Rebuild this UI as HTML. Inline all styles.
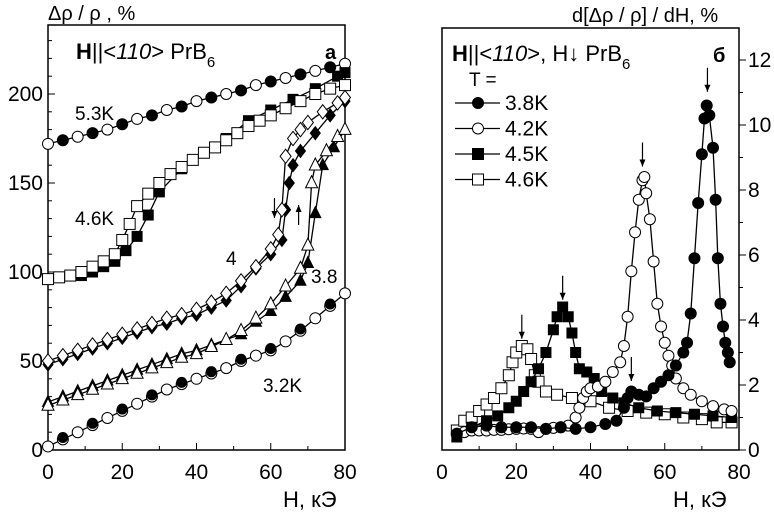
<!DOCTYPE html>
<html><head><meta charset="utf-8"><style>
html,body{margin:0;padding:0;background:#fff}
svg{display:block;font-family:"Liberation Sans",sans-serif}
</style></head><body>
<svg id="c" width="774" height="512" viewBox="0 0 774 512">
<text x="48" y="20" font-size="20">Δρ / ρ ,  %</text>
<text x="283" y="507" font-size="22">H, кЭ</text>
<text x="572" y="22" font-size="20">d[Δρ / ρ] / dH,  %</text>
<text x="673" y="507" font-size="22">H, кЭ</text>
<text x="76" y="59" font-size="22"><tspan font-weight="bold">H</tspan>||&lt;<tspan font-style="italic">110</tspan>&gt;   PrB<tspan font-size="15" dy="8">6</tspan></text>
<text x="325" y="59" font-size="20" font-weight="bold">a</text>
<text x="452" y="61" font-size="22"><tspan font-weight="bold">H</tspan>||&lt;<tspan font-style="italic">110</tspan>&gt;, H↓   PrB<tspan font-size="15" dy="8">6</tspan></text>
<text x="713" y="62" font-size="20" font-weight="bold">б</text>
<text x="75" y="120" font-size="19">5.3K</text>
<text x="75" y="225" font-size="19">4.6K</text>
<text x="226" y="265" font-size="19">4</text>
<text x="311" y="283" font-size="19">3.8</text>
<text x="263" y="392" font-size="19">3.2K</text>
<text x="469" y="86" font-size="19">T =</text>
<g id="plots"></g>
</svg>
<script>
// ---- left panel data (H kOe, Δρ/ρ %) ----
const L53H=[0,4,8,12,16,20,24,28,32,36,40,44,48,52,56,60,64,68,72,76,80];
const L53V=[172,174,176,178,180,183,186,188,191,193,196,198,200,202,205,207,209,211,213,215,217];
const L46oH=[0,3,6,9,12,15,18,20,22,24,27,30,33,36,39,42,45,48,51,54,57,60,64,68,72,76,80];
const L46oV=[96,97,98,100,103,106,110,118,127,137,144,150,155,159,163,167,170,174,178,182,185,188,192,196,200,203,205];
const L46fH=[9,12,15,18,21,24,27,30,36,42,48,54,60,66,72,78,80];
const L46fV=[98,100,103,106,112,120,132,145,158,167,175,185,191,197,203,210,212];
const L4oH=[0,4,8,12,16,20,24,28,32,36,40,44,48,52,56,60,62,63,64,66,68,70,74,78,80];
const L4oV=[50,53,56,59,62,65,68,71,74,76,79,83,88,95,103,113,121,135,165,175,180,184,190,195,198];
const L4fH=[0,4,8,12,16,20,24,28,32,36,40,44,48,52,56,60,63,64,65,66,68,72,76,80];
const L4fV=[48,51,54,57,60,63,66,69,71,74,76,80,84,92,102,110,118,135,150,160,168,178,188,196];
const L38oH=[0,4,8,12,16,20,24,28,32,36,40,44,48,52,56,60,64,68,70,71,72,75,78,80];
const L38oV=[25,28,31,34,37,40,43,46,49,52,54,58,62,67,74,82,92,102,115,150,160,168,176,180];
const L38fH=[0,4,8,12,16,20,24,28,32,36,40,44,48,52,56,60,64,68,70,72,74,77,80];
const L38fV=[27,30,33,36,39,42,45,48,51,54,56,59,62,65,72,78,86,95,105,133,160,170,180];
const L32H=[0,4,8,12,16,20,24,28,32,36,40,44,48,52,56,60,64,68,72,76,80];
const L32V=[2,6,10,14,18,22,26,30,34,37,40,43,46,50,53,56,61,67,74,81,88];
// ---- right panel data (H kOe, dρ/dH %) ----
const R38H=[4,8,12,16,20,24,28,32,36,40,44,47,49,50,51,53,55,57,59,61,63,65,66,67,68,69,70,70.7,71.3,72,73,73.7,74.3,75,75.7,76.3,77,77.5];
const R38V=[0.5,0.7,0.75,0.7,0.7,0.7,0.65,0.7,0.65,0.7,0.8,0.9,1.3,1.6,1.8,1.7,1.65,1.9,2.1,2.3,2.6,3.0,3.3,4.2,5.9,7.6,9.1,10.2,10.6,10.3,9.3,7.7,5.9,4.5,3.8,3.3,3.0,2.7];
const R42H=[4,6,8,10,12,14,16,18,20,22,24,26,28,30,32,34,36,37,38,39,40,42,44,46,48,49,50,51,52,53,54,54.5,55,56,57,58,59,60,61,62,63,65,67,70,73,76,78];
const R42V=[0.5,0.55,0.6,0.6,0.6,0.62,0.62,0.64,0.65,0.66,0.65,0.55,0.65,0.68,0.7,0.75,1.0,1.3,1.6,1.8,1.9,1.95,2.1,2.4,2.7,3.2,4.1,5.5,6.7,7.7,8.3,8.4,7.9,7.1,5.8,4.5,3.8,3.3,2.9,2.6,2.2,1.9,1.7,1.5,1.35,1.25,1.2];
const R45H=[4,8,12,15,18,20,22,24,26,28,30,31,32.5,34,35,36,37,39,41,43,46,49,53,58,63,68,73,78];
const R45V=[0.4,0.7,0.9,1.05,1.3,1.5,1.8,2.1,2.5,3.0,3.7,4.1,4.4,4.1,3.6,3.0,2.5,2.4,2.2,1.8,1.6,1.45,1.3,1.2,1.15,1.1,1.05,1.0];
const R46H=[4,6,8,10,12,14,16,18,19,20,21.5,23,24,25,26,28,31,35,40,45,50,55,60,65,70,74,78];
const R46V=[0.6,0.9,1.0,1.2,1.4,1.6,1.9,2.3,2.7,3.0,3.2,3.1,2.8,2.3,2.1,1.8,1.7,1.6,1.5,1.3,1.2,1.15,1.1,1.0,0.95,0.85,0.85];
const leftYTicks=[0,50,100,150,200];
const xTicks=[0,20,40,60,80];
const rightYTicks=[0,2,4,6,8,10,12];
const legendLabels=["3.8K","4.2K","4.5K","4.6K"];

const NS="http://www.w3.org/2000/svg";
const G=document.getElementById('plots');
function mk(t,a,p){const e=document.createElementNS(NS,t);for(const k in a)e.setAttribute(k,a[k]);(p||G).appendChild(e);return e;}
const lx=h=>48+h*(345-48)/80, ly=v=>450-v*(450-94)/200;
const rx=h=>442+h*(739-442)/80, ry=v=>450-v*(450-60)/12;

function marker(shape,fill,x,y,s,p){
  const f=fill?'#000':'#fff';let e;
  if(shape==='c')e=mk('circle',{cx:x,cy:y,r:s,fill:f,stroke:'#000','stroke-width':1},p);
  else if(shape==='s')e=mk('rect',{x:x-s,y:y-s,width:2*s,height:2*s,fill:f,stroke:'#000','stroke-width':1},p);
  else if(shape==='d')e=mk('polygon',{points:`${x},${y-s*1.3} ${x+s},${y} ${x},${y+s*1.3} ${x-s},${y}`,fill:f,stroke:'#000','stroke-width':1},p);
  else e=mk('polygon',{points:`${x},${y-s*1.2} ${x+s},${y+s*0.8} ${x-s},${y+s*0.8}`,fill:f,stroke:'#000','stroke-width':1},p);
  return e;
}
function series(name,H,V,fx,fy,shape,fill,s,line){
  const g=mk('g',{});
  
  
  if(line){const pl=mk('polyline',{points:H.map((h,i)=>fx(h)+','+fy(V[i])).join(' '),fill:'none',stroke:'#000','stroke-width':1.3},g);
    
    }
  H.forEach((h,i)=>{const m=marker(shape,fill,fx(h),fy(V[i]),s,g);
    
    });
}
function axes(x0,x1,y0,y1,fx,fy,yt,ymin,right,name){
  const g=mk('g',{});
  
  
  mk('rect',{x:x0,y:y1,width:x1-x0,height:y0-y1,fill:'none',stroke:'#000','stroke-width':1.5},g);
  for(let h=0;h<=80;h+=10){const X=fx(h),L=h%20===0?7:4;mk('line',{x1:X,y1:y0,x2:X,y2:y0-L,stroke:'#000'},g);}
  xTicks.forEach(t=>{const e=mk('text',{x:fx(t),y:y0+29,'font-size':21,'text-anchor':'middle'},g);e.textContent=t;
    });
  const step=yt[1]-yt[0];
  for(let v=0;fy(v)>y1;v+=ymin){const Y=fy(v),maj=Math.abs(v/step-Math.round(v/step))<1e-6,L=maj?7:4;
    if(right)mk('line',{x1:x1,y1:Y,x2:x1+L,y2:Y,stroke:'#000'},g);else mk('line',{x1:x0,y1:Y,x2:x0+L,y2:Y,stroke:'#000'},g);}
  yt.forEach(t=>{const e=right?mk('text',{x:x1+9,y:fy(t)+7,'font-size':21},g):mk('text',{x:x0-5,y:fy(t)+7,'font-size':21,'text-anchor':'end'},g);e.textContent=t;
    });
}
axes(48,345,450,25,lx,ly,leftYTicks,10,false,'left-axes');
axes(442,739,450,28,rx,ry,rightYTicks,1,true,'right-axes');

series('series-5-3k-open',L53H,L53V,lx,ly,'c',false,5.5,true);
series('series-5-3k-filled',L53H.filter((_,i)=>i%2),L53V.filter((_,i)=>i%2),lx,ly,'c',true,5,false);
series('series-4-6k-filled',L46fH,L46fV,lx,ly,'s',true,5,true);
series('series-4-6k-open',L46oH,L46oV,lx,ly,'s',false,5.5,true);
series('series-4k-filled',L4fH,L4fV,lx,ly,'d',true,5,true);
series('series-4k-open',L4oH,L4oV,lx,ly,'d',false,5.5,true);
series('series-3-8-filled',L38fH,L38fV,lx,ly,'t',true,5.5,true);
series('series-3-8-open',L38oH,L38oV,lx,ly,'t',false,6,true);
series('series-3-2k',L32H,L32V,lx,ly,'c',false,5.5,true);
series('series-3-2k-filled',L32H.filter((_,i)=>i%2),L32V.filter((_,i)=>i%2).map(v=>v+1),lx,ly,'c',true,5,false);

series('series-4-6k-deriv',R46H,R46V,rx,ry,'s',false,5.5,true);
series('series-4-5k-deriv',R45H,R45V,rx,ry,'s',true,5,true);
series('series-4-2k-deriv',R42H,R42V,rx,ry,'c',false,5.5,true);
series('series-3-8k-deriv',R38H,R38V,rx,ry,'c',true,5.5,true);

function arrow(x,y1,y2,name){const g=mk('g',{});
  
  mk('line',{x1:x,y1:y1,x2:x,y2:y2,stroke:'#000','stroke-width':1.2},g);
  const d=y2>y1?-1:1;mk('polygon',{points:`${x},${y2} ${x-3},${y2+7*d} ${x+3},${y2+7*d}`,fill:'#000'},g);}
[[21.5,3.3],[32.5,4.5],[54,8.6],[71.5,10.9],[51,2.0]].forEach(p=>arrow(rx(p[0]),ry(p[1])-28,ry(p[1])-4,'peak-arrow'));
arrow(lx(61),198,218,'sweep-down-arrow');
arrow(lx(67.5),225,205,'sweep-up-arrow');

const legShapes=[['c',true],['c',false],['s',true],['s',false]];
legendLabels.forEach((lab,i)=>{const y=103+i*25.5;const g=mk('g',{});
  
  mk('line',{x1:455,y1:y,x2:500,y2:y,stroke:'#000','stroke-width':1.3},g);
  marker(legShapes[i][0],legShapes[i][1],478,y,5.5,g);
  const t=mk('text',{x:505,y:y+7,'font-size':21},g);t.textContent=lab;});
</script>
</body></html>
